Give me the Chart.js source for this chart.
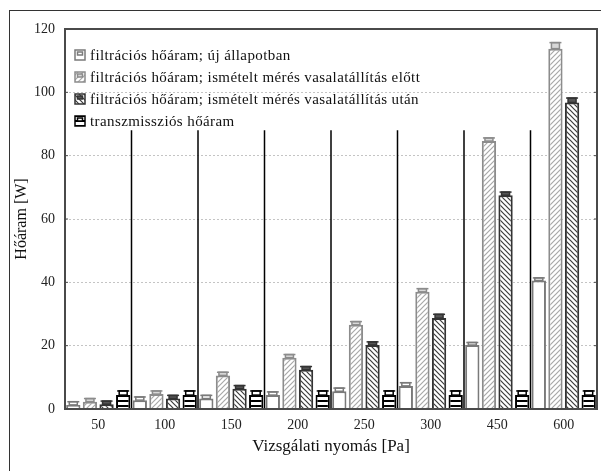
<!DOCTYPE html>
<html><head><meta charset="utf-8">
<script src="https://cdn.jsdelivr.net/npm/chart.js@4/dist/chart.umd.min.js"></script>
<style>html,body{margin:0;padding:0;background:#fff}#wrap{width:601px;height:471px}</style>
</head><body><div id="wrap"><canvas id="c" width="601" height="471"></canvas></div>
<script>
const categories = ['50','100','150','200','250','300','450','600'];
const seriesLabels = [
  'filtrációs hőáram; új állapotban',
  'filtrációs hőáram; ismételt mérés vasalatállítás előtt',
  'filtrációs hőáram; ismételt mérés vasalatállítás után',
  'transzmissziós hőáram'
];
const filtNew      = [1.3, 2.8, 3.3, 4.4, 5.6, 7.3, 20.2, 40.6];
const filtBefore   = [2.3, 4.7, 10.6, 16.2, 26.6, 37.0, 84.6, 113.8];
const filtAfter    = [1.5, 3.3, 6.4, 12.4, 20.2, 28.7, 67.5, 96.8];
const transmission = [4.4, 4.4, 4.4, 4.4, 4.4, 4.4, 4.4, 4.4];
const errNew       = [1.0, 1.0, 1.0, 1.0, 1.0, 1.0, 0.8, 0.8];
const errBefore    = [1.0, 1.0, 1.0, 1.0, 1.0, 1.0, 1.0, 1.9];
const errAfter     = [1.0, 1.0, 1.0, 1.0, 1.0, 1.2, 1.0, 1.4];
const errTrans     = [1.3, 1.3, 1.3, 1.3, 1.3, 1.3, 1.3, 1.3];
const yTickMin = 0, yTickMax = 120, yTickStep = 20;
const separatorTop = 88;

const FONT = '"Liberation Serif", "DejaVu Serif", serif';

function pattern(kind, color){
  const s = 5;
  const c = document.createElement('canvas'); c.width = s; c.height = s;
  const g = c.getContext('2d');
  g.fillStyle = '#fff'; g.fillRect(0,0,s,s);
  g.strokeStyle = color; g.lineWidth = 1.2;
  if (kind === 'h') {
    g.fillStyle = color; g.fillRect(0,0,s,2);
  } else if (kind === 'f') {
    g.beginPath();
    g.moveTo(-1, s+1); g.lineTo(s+1, -1);
    g.moveTo(-1, 1); g.lineTo(1, -1);
    g.moveTo(s-1, s+1); g.lineTo(s+1, s-1);
    g.stroke();
  } else if (kind === 'b') {
    g.beginPath();
    g.moveTo(-1, -1); g.lineTo(s+1, s+1);
    g.moveTo(s-1, -1); g.lineTo(s+1, 1);
    g.moveTo(-1, s-1); g.lineTo(1, s+1);
    g.stroke();
  }
  return document.createElement('canvas').getContext('2d').createPattern(c, 'repeat');
}

const styles = [
  {bg: '#ffffff', border: '#7a7a7a', handleFill: '#ffffff'},
  {bg: pattern('f', '#a8a8a8'), border: '#8c8c8c', handleFill: '#d8d8d8'},
  {bg: pattern('b', '#3c3c3c'), border: '#333333', handleFill: '#555555'},
  {bg: pattern('h', '#000000'), border: '#000000', handleFill: '#ffffff'}
];
const values = [filtNew, filtBefore, filtAfter, transmission];
const errors = [errNew, errBefore, errAfter, errTrans];

const framePlugin = {
  id: 'frame',
  afterDatasetsDraw(chart) {
    const {ctx, chartArea: a, scales: {x, y}} = chart;
    ctx.save();
    chart.data.datasets.forEach((ds, di) => {
      const meta = chart.getDatasetMeta(di);
      meta.data.forEach((bar, i) => {
        const v = ds.data[i], e = errors[di][i];
        const py = y.getPixelForValue(v), pe = y.getPixelForValue(v + e);
        const cx = bar.x;
        ctx.strokeStyle = styles[di].border;
        ctx.lineWidth = 1.5;
        ctx.fillStyle = styles[di].handleFill;
        ctx.fillRect(cx - 4, pe, 8, py - pe);
        ctx.strokeRect(cx - 4, pe, 8, py - pe);
        ctx.beginPath();
        ctx.moveTo(cx - 6, pe); ctx.lineTo(cx + 6, pe);
        ctx.stroke();
      });
    });
    ctx.strokeStyle = '#000'; ctx.lineWidth = 1.5;
    const ty = y.getPixelForValue(separatorTop);
    for (let i = 0; i < categories.length - 1; i++) {
      const sx = (x.getPixelForValue(i) + x.getPixelForValue(i + 1)) / 2;
      ctx.beginPath(); ctx.moveTo(sx, a.bottom); ctx.lineTo(sx, ty); ctx.stroke();
    }
    ctx.strokeStyle = '#4a4a4a'; ctx.lineWidth = 2;
    ctx.strokeRect(a.left, a.top, a.right - a.left, a.bottom - a.top);
    ctx.lineWidth = 1;
    for (let t = yTickMin + yTickStep; t < yTickMax; t += yTickStep) {
      const ty2 = y.getPixelForValue(t);
      ctx.beginPath(); ctx.moveTo(a.right, ty2); ctx.lineTo(a.right - 3, ty2); ctx.stroke();
      ctx.beginPath(); ctx.moveTo(a.left, ty2); ctx.lineTo(a.left + 3, ty2); ctx.stroke();
    }
    ctx.strokeStyle = '#333'; ctx.lineWidth = 1;
    ctx.strokeRect(9.5, 10.5, 640, 520);
    ctx.font = '15px ' + FONT;
    if ('letterSpacing' in ctx) ctx.letterSpacing = '0.4px';
    ctx.textBaseline = 'middle';
    chart.data.datasets.forEach((ds, di) => {
      const ly = 55 + di * 22;
      const lx = 75;
      ctx.fillStyle = styles[di].bg;
      ctx.fillRect(lx, ly - 5, 10, 10);
      ctx.strokeStyle = styles[di].border; ctx.lineWidth = 1.5;
      ctx.strokeRect(lx, ly - 5, 10, 10);
      ctx.fillStyle = styles[di].handleFill;
      ctx.fillRect(lx + 2.5, ly - 3, 5, 3);
      ctx.strokeRect(lx + 2.5, ly - 3, 5, 3);
      ctx.fillStyle = '#111';
      ctx.fillText(ds.label, lx + 15, ly + 1);
    });
    ctx.restore();
  }
};

new Chart(document.getElementById('c'), {
  type: 'bar',
  data: {
    labels: categories,
    datasets: values.map((v, i) => ({
      label: seriesLabels[i],
      data: v,
      backgroundColor: styles[i].bg,
      borderColor: styles[i].border,
      borderWidth: 2,
      borderSkipped: 'bottom',
      categoryPercentage: 1.0,
      barPercentage: 0.86
    }))
  },
  options: {
    responsive: false,
    animation: false,
    devicePixelRatio: 1,
    layout: {padding: {left: 0, top: 29, right: 4, bottom: 0}},
    plugins: {legend: {display: false}, tooltip: {enabled: false}},
    scales: {
      x: {
        grid: {display: false, drawTicks: false},
        border: {display: false},
        ticks: {font: {family: FONT, size: 14}, color: '#222', padding: 8},
        title: {display: true, text: 'Vizsgálati nyomás [Pa]', font: {family: FONT, size: 17}, color: '#111', padding: {top: 0, bottom: 14}},
        afterFit(s) { s.height = 62; }
      },
      y: {
        min: yTickMin, max: yTickMax,
        ticks: {stepSize: yTickStep, font: {family: FONT, size: 14}, color: '#222', padding: 10},
        grid: {color: '#c4c4c4', lineWidth: 1, drawTicks: false},
        border: {display: false, dash: [2, 2]},
        title: {display: true, text: 'Hőáram [W]', font: {family: FONT, size: 16}, color: '#111', padding: {top: 12, bottom: 0}},
        afterFit(s) { s.width = 65; }
      }
    }
  },
  plugins: [framePlugin]
});
</script></body></html>
